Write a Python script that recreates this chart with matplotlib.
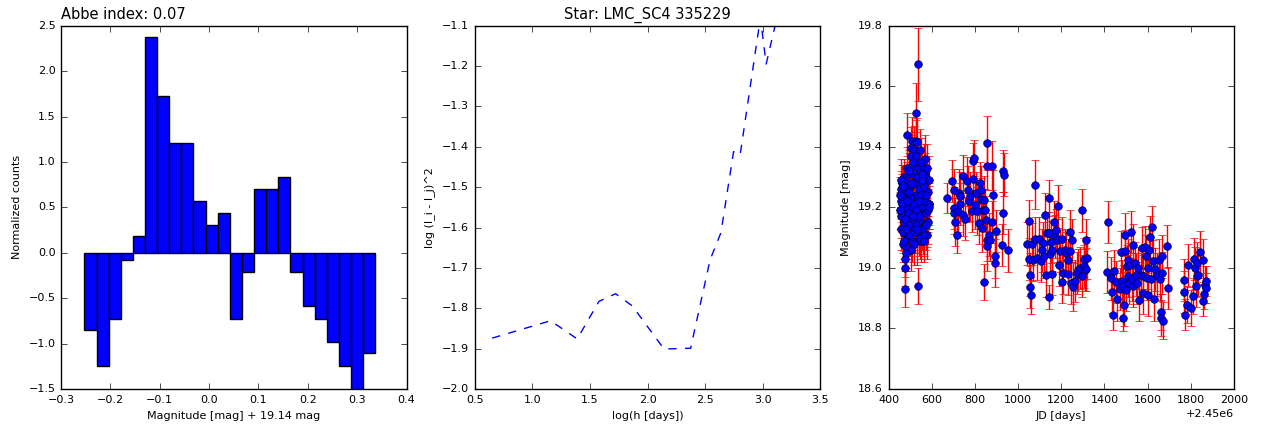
import matplotlib
import matplotlib.pyplot as plt
import numpy as np

matplotlib.use("Agg")

plt.style.use("classic")
plt.rcParams["font.family"] = ["DejaVu Sans"]
plt.rcParams["xtick.labelsize"] = 8
plt.rcParams["ytick.labelsize"] = 8
plt.rcParams["axes.labelsize"] = 8

# --- left panel: normalized histogram of magnitudes ---
HIST_LO, HIST_HI = -0.2527, 0.3365
hist_values = [
    -0.85, -1.25, -0.73, -0.08, 0.18, 2.37, 1.73, 1.21, 1.21, 0.57, 0.31, 0.44,
    -0.73, -0.21, 0.70, 0.70, 0.83, -0.21, -0.59, -0.73, -0.98, -1.25, -1.60, -1.10,
]
abbe_index = 0.07
mean_mag = 19.14

# --- middle panel: structure function ---
log_h = [0.651, 1.158, 1.389, 1.578, 1.722, 1.867, 2.143, 2.374, 2.543, 2.637,
         2.747, 2.804, 2.980, 3.030, 3.140]
log_sf = [-1.874, -1.831, -1.876, -1.783, -1.764, -1.794, -1.901, -1.899, -1.680,
          -1.613, -1.412, -1.420, -1.080, -1.195, -1.060]
star_name = "LMC_SC4 335229"

# --- right panel: light curve (JD - 2450000, mag, error) ---
JD0 = 2450000
jd_s1 = [535, 525, 486, 509, 525, 532, 502, 517, 545, 571, 502, 525, 486, 509, 540,
         563, 571, 471, 494, 520, 548, 579, 463, 486, 505, 532, 556, 576, 463, 479,
         499, 525, 548, 579, 468, 486, 509, 540, 563, 586, 463, 483, 502, 525, 548,
         576, 471, 494, 517, 540, 560, 579, 471, 489, 509, 532, 551, 468, 483, 502,
         479, 474, 474, 474, 536, 457, 458, 460, 456, 461, 459, 465, 466, 470, 475,
         478, 481, 490, 492, 496, 498, 506, 512, 514, 519, 522, 528, 530, 535, 538,
         542, 545, 552, 555, 558, 562, 566, 568, 574, 582, 585, 578, 567, 550, 515,
         497, 545, 565, 520, 470, 588, 587, 584, 572, 557, 543, 527, 511, 493, 477,
         462, 455, 454, 467, 484, 503, 533, 553, 575, 589]
mag_s1 = [19.672, 19.51, 19.44, 19.42, 19.42, 19.415, 19.395, 19.39, 19.39, 19.36,
          19.37, 19.37, 19.33, 19.335, 19.33, 19.33, 19.31, 19.30, 19.31, 19.31,
          19.30, 19.29, 19.28, 19.28, 19.27, 19.28, 19.27, 19.25, 19.25, 19.24,
          19.24, 19.24, 19.22, 19.21, 19.21, 19.20, 19.20, 19.20, 19.19, 19.21,
          19.18, 19.17, 19.175, 19.16, 19.155, 19.15, 19.15, 19.14, 19.13, 19.12,
          19.115, 19.11, 19.115, 19.10, 19.09, 19.09, 19.09, 19.08, 19.07, 19.06,
          19.05, 19.03, 19.00, 18.93, 18.94, 19.22, 19.17, 19.26, 19.13, 19.19,
          19.29, 19.23, 19.12, 19.18, 19.26, 19.20, 19.13, 19.26, 19.18, 19.22,
          19.11, 19.23, 19.16, 19.28, 19.21, 19.12, 19.19, 19.30, 19.23, 19.15,
          19.26, 19.17, 19.24, 19.13, 19.20, 19.27, 19.11, 19.22, 19.18, 19.25,
          19.15, 19.33, 19.30, 19.35, 19.35, 19.32, 19.10, 19.09, 19.08, 19.09,
          19.29, 19.21, 19.19, 19.24, 19.29, 19.22, 19.14, 19.17, 19.25, 19.16,
          19.21, 19.19, 19.24, 19.27, 19.22, 19.28, 19.13, 19.31, 19.14, 19.20]
err_s1 = [0.12, 0.10, 0.07, 0.08, 0.07, 0.08, 0.07, 0.08, 0.07, 0.08, 0.07, 0.08,
          0.07, 0.06, 0.07, 0.08, 0.07, 0.06, 0.07, 0.07, 0.08, 0.07, 0.06, 0.07,
          0.07, 0.08, 0.07, 0.08, 0.06, 0.07, 0.07, 0.08, 0.07, 0.07, 0.06, 0.07,
          0.07, 0.08, 0.07, 0.08, 0.06, 0.07, 0.07, 0.08, 0.07, 0.08, 0.06, 0.07,
          0.07, 0.08, 0.07, 0.08, 0.06, 0.07, 0.07, 0.08, 0.07, 0.06, 0.07, 0.07,
          0.06, 0.06, 0.06, 0.06, 0.06, 0.06, 0.07, 0.06, 0.07, 0.06, 0.07, 0.06,
          0.07, 0.06, 0.07, 0.07, 0.07, 0.08, 0.07, 0.07, 0.07, 0.08, 0.07, 0.09,
          0.07, 0.07, 0.08, 0.09, 0.08, 0.07, 0.08, 0.07, 0.08, 0.07, 0.08, 0.08,
          0.07, 0.08, 0.07, 0.08, 0.07, 0.08, 0.07, 0.08, 0.08, 0.07, 0.07, 0.07,
          0.07, 0.06, 0.08, 0.07, 0.07, 0.08, 0.07, 0.08, 0.07, 0.07, 0.08, 0.07,
          0.06, 0.06, 0.06, 0.07, 0.07, 0.08, 0.08, 0.07, 0.08, 0.07]

jd_s2 = [673, 693, 704, 704, 704, 710, 716, 722, 724, 732, 732, 743, 747, 755, 762,
         770, 773, 778, 786, 790, 793, 796, 801, 804, 809, 820, 824, 827, 827, 832,
         837, 840, 843, 848, 851, 855, 855, 858, 858, 863, 871, 881, 881, 886, 891,
         895, 898, 925, 929, 932, 935, 951]
mag_s2 = [19.231, 19.286, 19.258, 19.198, 19.181, 19.152, 19.110, 19.187, 19.247,
          19.212, 19.236, 19.176, 19.302, 19.163, 19.286, 19.256, 19.220, 19.236,
          19.187, 19.293, 19.354, 19.363, 19.209, 19.247, 19.187, 19.148, 19.280,
          19.256, 19.227, 19.132, 19.192, 18.953, 19.225, 19.190, 19.159, 19.412,
          19.338, 19.093, 19.071, 19.110, 19.093, 19.338, 19.152, 19.242, 19.038,
          19.016, 19.121, 19.076, 19.181, 19.319, 19.308, 19.058]
err_s2 = [0.05, 0.07, 0.07, 0.07, 0.07, 0.08, 0.06, 0.07, 0.08, 0.07, 0.08, 0.07,
          0.07, 0.07, 0.08, 0.08, 0.07, 0.08, 0.07, 0.07, 0.06, 0.06, 0.08, 0.07,
          0.08, 0.07, 0.07, 0.08, 0.07, 0.08, 0.07, 0.06, 0.08, 0.07, 0.08, 0.09,
          0.08, 0.07, 0.08, 0.07, 0.07, 0.08, 0.07, 0.08, 0.07, 0.08, 0.07, 0.07,
          0.07, 0.07, 0.07, 0.07]

jd_s3 = [1040, 1051, 1051, 1053, 1056, 1059, 1064, 1067, 1079, 1079, 1087, 1098,
         1105, 1110, 1117, 1120, 1125, 1130, 1133, 1141, 1144, 1144, 1148, 1152,
         1156, 1159, 1164, 1171, 1176, 1182, 1185, 1189, 1195, 1201, 1205, 1210,
         1218, 1222, 1229, 1232, 1239, 1241, 1244, 1249, 1256, 1264, 1272, 1279,
         1287, 1295, 1298, 1303, 1306, 1310, 1313, 1318, 1313]
mag_s3 = [19.080, 19.154, 19.030, 18.978, 18.936, 18.909, 19.079, 19.027, 19.275,
          19.097, 19.031, 19.097, 19.022, 19.058, 19.082, 19.038, 19.176, 18.975,
          19.115, 18.903, 19.231, 19.115, 19.047, 19.085, 19.060, 18.980, 19.152,
          19.104, 19.126, 19.091, 19.203, 19.011, 19.055, 18.954, 19.097, 18.983,
          19.060, 19.049, 19.027, 18.981, 19.120, 19.055, 18.951, 19.091, 18.936,
          18.956, 18.983, 18.992, 19.000, 19.190, 18.973, 19.005, 19.030, 18.992,
          19.093, 19.033, 18.995]
err_s3 = [0.07, 0.07, 0.07, 0.07, 0.07, 0.06, 0.07, 0.07, 0.08, 0.07, 0.07, 0.07,
          0.07, 0.07, 0.07, 0.07, 0.07, 0.07, 0.07, 0.04, 0.06, 0.07, 0.07, 0.07,
          0.07, 0.07, 0.07, 0.07, 0.07, 0.07, 0.07, 0.07, 0.07, 0.07, 0.07, 0.07,
          0.07, 0.07, 0.07, 0.07, 0.07, 0.07, 0.07, 0.07, 0.08, 0.07, 0.07, 0.07,
          0.07, 0.07, 0.07, 0.07, 0.07, 0.07, 0.07, 0.07, 0.07]

jd_s4 = [1411, 1415, 1431, 1434, 1438, 1442, 1453, 1460, 1470, 1476, 1480, 1485,
         1488, 1491, 1494, 1497, 1499, 1503, 1508, 1511, 1514, 1519, 1523, 1526,
         1531, 1534, 1542, 1547, 1550, 1557, 1562, 1568, 1573, 1577, 1580, 1588,
         1591, 1596, 1600, 1603, 1608, 1611, 1616, 1619, 1623, 1630, 1634, 1642,
         1653, 1658, 1661, 1664, 1668, 1673, 1665, 1691, 1696]
mag_s4 = [18.987, 19.152, 18.965, 18.920, 18.844, 18.989, 18.954, 18.896, 18.931,
          19.052, 18.956, 18.940, 18.833, 18.879, 19.055, 19.110, 18.926, 19.005,
          18.973, 19.027, 18.951, 19.011, 19.118, 18.962, 19.075, 18.940, 19.016,
          18.978, 18.951, 19.000, 18.893, 18.978, 19.066, 18.918, 18.973, 19.068,
          19.038, 18.965, 18.912, 19.000, 19.060, 19.102, 18.964, 19.135, 19.022,
          18.896, 18.995, 18.978, 19.027, 18.962, 18.854, 18.835, 18.983, 18.826,
          19.038, 19.071, 18.934]
err_s4 = [0.07, 0.07, 0.07, 0.07, 0.05, 0.07, 0.07, 0.07, 0.07, 0.07, 0.07, 0.07,
          0.04, 0.07, 0.07, 0.07, 0.07, 0.07, 0.07, 0.07, 0.07, 0.07, 0.07, 0.07,
          0.07, 0.07, 0.07, 0.07, 0.07, 0.07, 0.07, 0.07, 0.07, 0.07, 0.07, 0.07,
          0.07, 0.07, 0.07, 0.07, 0.07, 0.07, 0.07, 0.07, 0.07, 0.07, 0.07, 0.07,
          0.07, 0.07, 0.06, 0.06, 0.07, 0.06, 0.07, 0.07, 0.07]

jd_s5 = [1769, 1770, 1775, 1784, 1789, 1800, 1809, 1815, 1820, 1823, 1827, 1830,
         1833, 1843, 1854, 1858, 1861, 1866, 1869, 1870]
mag_s5 = [18.920, 18.959, 18.846, 18.879, 19.008, 18.868, 18.907, 19.030, 19.000,
          18.940, 19.016, 18.973, 18.978, 19.053, 19.025, 18.892, 18.915, 18.945,
          18.956, 18.934]
err_s5 = [0.07, 0.07, 0.05, 0.06, 0.07, 0.06, 0.06, 0.07, 0.07, 0.07, 0.07, 0.07,
          0.07, 0.07, 0.07, 0.05, 0.05, 0.06, 0.05, 0.05]

jd = np.array(jd_s1 + jd_s2 + jd_s3 + jd_s4 + jd_s5) + JD0
mag = np.array(mag_s1 + mag_s2 + mag_s3 + mag_s4 + mag_s5)
err = np.array(err_s1 + err_s2 + err_s3 + err_s4 + err_s5)

fig, (ax1, ax2, ax3) = plt.subplots(1, 3, figsize=(12.64, 4.26), dpi=100)
fig.patch.set_facecolor("white")
fig.subplots_adjust(left=0.0483, right=0.9763, top=0.9397, bottom=0.0869, wspace=0.1975)

edges = np.linspace(HIST_LO, HIST_HI, len(hist_values) + 1)
ax1.bar(edges[:-1], hist_values, width=np.diff(edges), align="edge",
        color="b", edgecolor="k", linewidth=1)
ax1.set_xlim(-0.3, 0.4)
ax1.set_ylim(-1.5, 2.5)
ax1.set_xlabel(f"Magnitude [mag] + {mean_mag:.2f} mag")
ax1.set_ylabel("Normalized counts")
ax1.set_title(f"Abbe index: {abbe_index:.2f}", loc="left", fontsize=10.5)

ax2.plot(log_h, log_sf, "b--", linewidth=1)
ax2.set_xlim(0.5, 3.5)
ax2.set_ylim(-2.0, -1.1)
ax2.set_xlabel("log(h [days])")
ax2.set_ylabel("log (I_i - I_j)^2")
ax2.set_title(f"Star: {star_name}", fontsize=10.5)

ax3.errorbar(jd, mag, yerr=err, fmt="o", color="b", markersize=5.5,
             markeredgecolor="#000033", markeredgewidth=0.5,
             ecolor="r", elinewidth=1, capsize=3)
ax3.set_xlim(JD0 + 400, JD0 + 2000)
ax3.set_ylim(18.6, 19.8)
ax3.set_xlabel("JD [days]")
ax3.set_ylabel("Magnitude [mag]")

fig.savefig("out.png", dpi=100, facecolor="white")
